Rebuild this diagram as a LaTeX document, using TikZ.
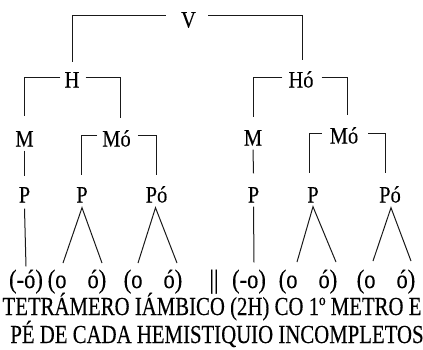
\documentclass[tikz,border=0pt]{standalone}
\usepackage{fontspec}
\setmainfont{Liberation Serif}
\newfontfamily\treefont[FakeStretch=0.87,FakeBold=0.2]{Liberation Serif}
\newfontfamily\sylfont[FakeStretch=0.85,FakeBold=0.2]{Liberation Serif}
\newfontfamily\capfont[FakeStretch=0.8,FakeBold=0.2]{Liberation Serif}
\begin{document}
\begin{tikzpicture}[x=1pt,y=-1pt,
  lbl/.style={font=\treefont\fontsize{23.5}{23.5}\selectfont, inner sep=0pt, text height=15pt, text depth=0pt},
  syl/.style={font=\sylfont\fontsize{26.5}{26.5}\selectfont, inner sep=0pt, anchor=base},
  capt/.style={font=\capfont\fontsize{26}{26}\selectfont, inner sep=0pt, anchor=base},
  br/.style={draw=black!90, line width=1pt}]
\useasboundingbox (0,0) rectangle (423,349);
% labels
\node[lbl] (V) at (188.5,20) {V};
\node[lbl] (H) at (72,80) {H};
\node[lbl] (Ho) at (301,80) {Hó};
\node[lbl] (M1) at (24.5,139) {M};
\node[lbl] (Mo1) at (116.5,139) {Mó};
\node[lbl] (M2) at (253,138) {M};
\node[lbl] (Mo2) at (344,136) {Mó};
\node[lbl] (P1) at (24.5,195) {P};
\node[lbl] (P2) at (82,195) {P};
\node[lbl] (P3) at (156.5,195) {Pó};
\node[lbl] (P4) at (253.5,195) {P};
\node[lbl] (P5) at (313,195) {P};
\node[lbl] (P6) at (390,195) {Pó};
% syllables
\node[syl] (s1) at (26,288) {(-ó)};
\node[syl] (s2) at (77,288) {(o\hspace{21pt}ó)};
\node[syl] (s3) at (153,288) {(o\hspace{21pt}ó)};
\node[syl] (bar) at (214,288) {||};
\node[syl] (s5) at (249,288) {(-o)};
\node[syl] (s6) at (308,288) {(o\hspace{21pt}ó)};
\node[syl] (s7) at (386,288) {(o\hspace{21pt}ó)};
% caption
\node[capt] (c1) at (212,315) {TETRÁMERO IÁMBICO (2H) CO 1º METRO E};
\node[capt] (c2) at (217,343) {PÉ DE CADA HEMISTIQUIO INCOMPLETOS};
% leg end points
\coordinate (e2a) at (63,263);
\coordinate (e2b) at (102,263);
\coordinate (e3a) at (138,263);
\coordinate (e3b) at (177,263);
\coordinate (e5a) at (297,262);
\coordinate (e5b) at (336,262);
\coordinate (e6a) at (373,261);
\coordinate (e6b) at (411,261);
% brackets
\draw[br] ([xshift=-15pt,yshift=5pt]V.west) -| ([yshift=10pt]H.north);
\draw[br] ([xshift=12pt,yshift=5pt]V.east) -| ([xshift=1pt,yshift=12pt]Ho.north);
\draw[br] ([xshift=-4pt,yshift=3pt]H.west) -| ([yshift=15pt]M1.north);
\draw[br] ([xshift=6pt,yshift=3pt]H.east) -| ([xshift=3.5pt,yshift=13pt]Mo1.north);
\draw[br] ([xshift=-6pt,yshift=3pt]Ho.west) -| ([yshift=13pt]M2.north);
\draw[br] ([xshift=8pt,yshift=3pt]Ho.east) -| ([xshift=3.5pt,yshift=13pt]Mo2.north);
\draw[br] ([xshift=-5pt,yshift=4pt]Mo1.west) -| ([xshift=-1pt,yshift=12pt]P2.north);
\draw[br] ([xshift=7pt,yshift=4pt]Mo1.east) -| ([yshift=12pt]P3.north);
\draw[br] ([xshift=-8pt,yshift=3pt]Mo2.west) -| ([xshift=-4pt,yshift=14pt]P5.north);
\draw[br] ([xshift=10pt,yshift=3pt]Mo2.east) -| ([xshift=-5pt,yshift=14pt]P6.north);
% vertical lines
\draw[br] ([yshift=-4pt]M1.south) -- ([yshift=11pt]P1.north);
\draw[br] ([yshift=-4pt]M2.south) -- ([yshift=14pt]P4.north);
\draw[br] ([yshift=-6pt]P1.south) -- ([yshift=3pt]s1.north);
\draw[br] ([yshift=-4pt]P4.south) -- ([xshift=5pt,yshift=7pt]s5.north);
% legs
\draw[br] (e2a) -- ([yshift=-5pt]P2.south) -- (e2b);
\draw[br] (e3a) -- ([xshift=-1pt,yshift=-5pt]P3.south) -- (e3b);
\draw[br] (e5a) -- ([yshift=-4pt]P5.south) -- (e5b);
\draw[br] (e6a) -- ([xshift=1pt,yshift=-5pt]P6.south) -- (e6b);
\end{tikzpicture}
\end{document}
